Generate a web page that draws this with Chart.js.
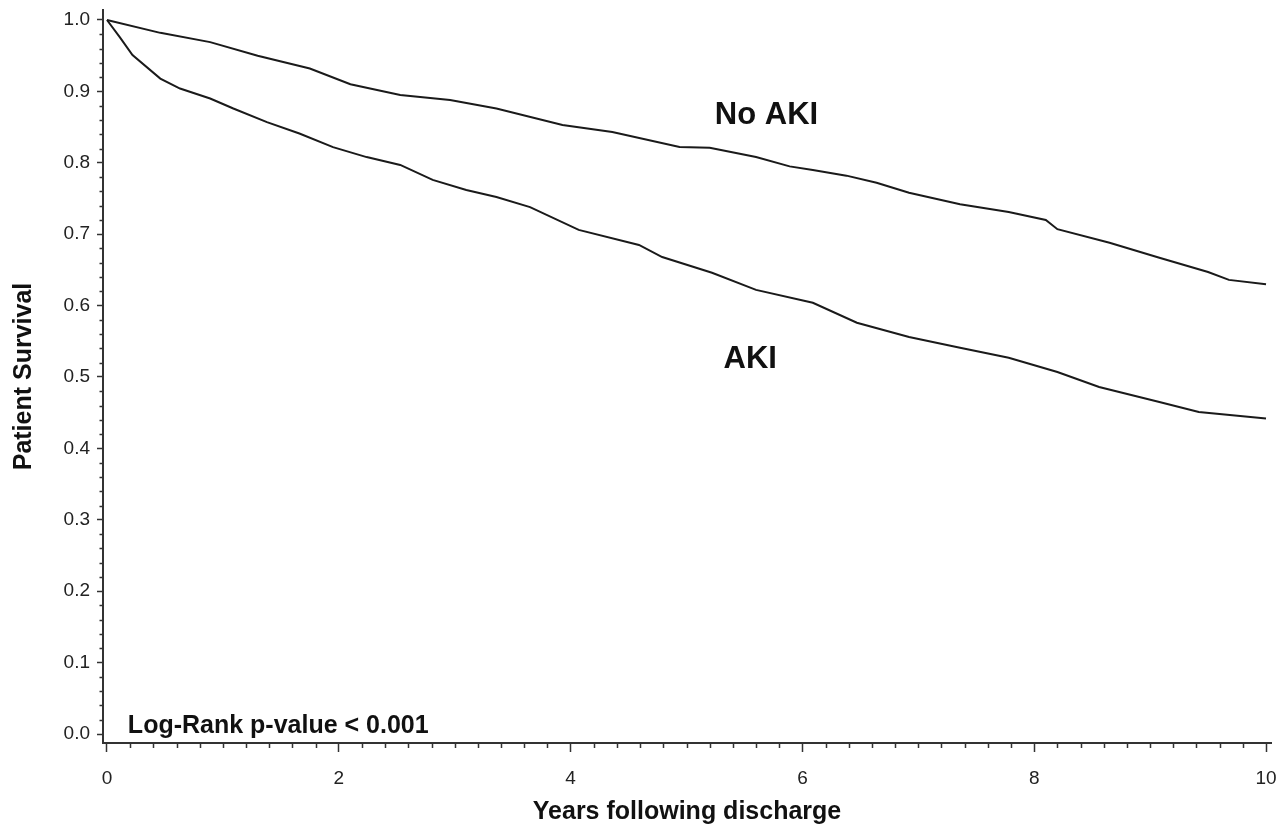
<!DOCTYPE html>
<html>
<head>
<meta charset="utf-8">
<title>Patient Survival</title>
<script src="https://cdn.jsdelivr.net/npm/chart.js@4.4.0/dist/chart.umd.min.js"></script>
<style>
  html, body { margin: 0; padding: 0; background: #fff; }
  #wrap { width: 1283px; height: 831px; }
</style>
</head>
<body>
<div id="wrap"><canvas id="myChart" width="1283" height="831"></canvas></div>
<script>
// survival readings (years, survival)
var noAkiYears = [0, 0.46, 0.89, 1.3, 1.75, 2.1, 2.53, 2.96, 3.36, 3.93, 4.36, 4.94, 5.2, 5.6, 5.89, 6.09, 6.38, 6.64, 6.92, 7.36, 7.78, 8.1, 8.2, 8.65, 9.08, 9.5, 9.68, 10.0];
var noAkiSurvival = [1.0, 0.982, 0.969, 0.950, 0.932, 0.910, 0.895, 0.888, 0.876, 0.853, 0.843, 0.822, 0.821, 0.808, 0.795, 0.790, 0.782, 0.772, 0.758, 0.742, 0.731, 0.720, 0.707, 0.688, 0.667, 0.647, 0.636, 0.630];

var akiYears = [0, 0.11, 0.22, 0.46, 0.63, 0.89, 1.09, 1.38, 1.66, 1.95, 2.24, 2.53, 2.81, 3.1, 3.36, 3.65, 4.07, 4.59, 4.79, 5.22, 5.6, 6.09, 6.47, 6.92, 7.36, 7.78, 8.2, 8.56, 9.08, 9.42, 10.0];
var akiSurvival = [1.0, 0.976, 0.951, 0.918, 0.904, 0.890, 0.876, 0.857, 0.841, 0.822, 0.808, 0.797, 0.776, 0.762, 0.752, 0.738, 0.706, 0.685, 0.668, 0.646, 0.622, 0.604, 0.576, 0.556, 0.541, 0.527, 0.507, 0.486, 0.465, 0.451, 0.442];

var xTicks = [0, 2, 4, 6, 8, 10];
var yTicks = [0, 0.1, 0.2, 0.3, 0.4, 0.5, 0.6, 0.7, 0.8, 0.9, 1.0];

var xTitle = "Years following discharge";
var yTitle = "Patient Survival";
var pValueText = "Log-Rank p-value < 0.001";

function toPoints(xs, ys) {
  var pts = [];
  for (var i = 0; i < xs.length; i++) pts.push({ x: xs[i], y: ys[i] });
  return pts;
}

var fontFamily = "'Liberation Sans', Arial, Helvetica, sans-serif";
var ink = "#1a1a1a";

// minor ticks + curve labels, placed through the scales
var extras = {
  id: "extras",
  afterDraw: function (chart) {
    var ctx = chart.ctx;
    var xs = chart.scales.x;
    var ys = chart.scales.y;
    ctx.save();
    ctx.strokeStyle = "#333";
    ctx.lineWidth = 1.5;
    ctx.beginPath();
    for (var i = 1; i < 50; i++) {
      if (i % 10 === 0) continue;
      var px = Math.round(xs.getPixelForValue(i * 0.2)) + 0.5;
      ctx.moveTo(px, xs.top);
      ctx.lineTo(px, xs.top + 5);
    }
    for (var j = 1; j < 50; j++) {
      if (j % 5 === 0) continue;
      var py = Math.round(ys.getPixelForValue(j * 0.02)) + 0.5;
      ctx.moveTo(ys.right, py);
      ctx.lineTo(ys.right - 3.5, py);
    }
    ctx.stroke();

    ctx.fillStyle = "#111";
    ctx.textBaseline = "middle";
    ctx.textAlign = "center";
    ctx.font = "bold 31px " + fontFamily;
    ctx.fillText("No AKI", xs.getPixelForValue(5.69), ys.getPixelForValue(0.867));
    ctx.fillText("AKI", xs.getPixelForValue(5.55), ys.getPixelForValue(0.525));

    ctx.textAlign = "left";
    ctx.font = "bold 25px " + fontFamily;
    ctx.fillText(pValueText, xs.getPixelForValue(0.18), ys.getPixelForValue(0.011));
    ctx.restore();
  }
};

var data = {
  datasets: [
    {
      label: "No AKI",
      data: toPoints(noAkiYears, noAkiSurvival),
      borderColor: ink,
      borderWidth: 2,
      pointRadius: 0,
      tension: 0,
      fill: false
    },
    {
      label: "AKI",
      data: toPoints(akiYears, akiSurvival),
      borderColor: ink,
      borderWidth: 2,
      pointRadius: 0,
      tension: 0,
      fill: false
    }
  ]
};

var config = {
  type: "line",
  data: data,
  options: {
    responsive: false,
    animation: false,
    devicePixelRatio: 1,
    layout: { padding: { top: 10, right: 12, left: 0, bottom: 0 } },
    plugins: {
      legend: { display: false },
      tooltip: { enabled: false }
    },
    scales: {
      x: {
        type: "linear",
        min: -0.0345,
        max: 10.043,
        afterBuildTicks: function (scale) {
          scale.ticks = xTicks.map(function (v) { return { value: v }; });
        },
        afterFit: function (scale) {
          scale.height = 88;
          scale.paddingLeft = 0;
          scale.paddingRight = 0;
        },
        ticks: {
          autoSkip: false,
          maxRotation: 0,
          padding: 15,
          color: "#222",
          font: { family: fontFamily, size: 19 },
          callback: function (value) { return String(value); }
        },
        grid: { drawOnChartArea: false, drawTicks: true, tickLength: 9, tickColor: "#333", tickWidth: 1.5 },
        border: { color: "#333", width: 2 },
        title: {
          display: true,
          text: xTitle,
          color: "#111",
          font: { family: fontFamily, size: 25, weight: "bold" },
          padding: { top: 0, bottom: 4 }
        }
      },
      y: {
        type: "linear",
        min: -0.0126,
        max: 1.014,
        afterBuildTicks: function (scale) {
          scale.ticks = yTicks.map(function (v) { return { value: v }; });
        },
        afterFit: function (scale) {
          scale.width = 103;
          scale.paddingTop = 0;
          scale.paddingBottom = 0;
        },
        ticks: {
          autoSkip: false,
          padding: 7,
          color: "#222",
          font: { family: fontFamily, size: 19 },
          callback: function (value) { return value.toFixed(1); }
        },
        grid: { drawOnChartArea: false, drawTicks: true, tickLength: 6, tickColor: "#333", tickWidth: 1.5 },
        border: { color: "#333", width: 2 },
        title: {
          display: true,
          text: yTitle,
          color: "#111",
          font: { family: fontFamily, size: 25, weight: "bold" },
          padding: { top: 9, bottom: 0 }
        }
      }
    }
  },
  plugins: [extras]
};

var myChart = new Chart(document.getElementById("myChart"), config);
</script>
</body>
</html>
